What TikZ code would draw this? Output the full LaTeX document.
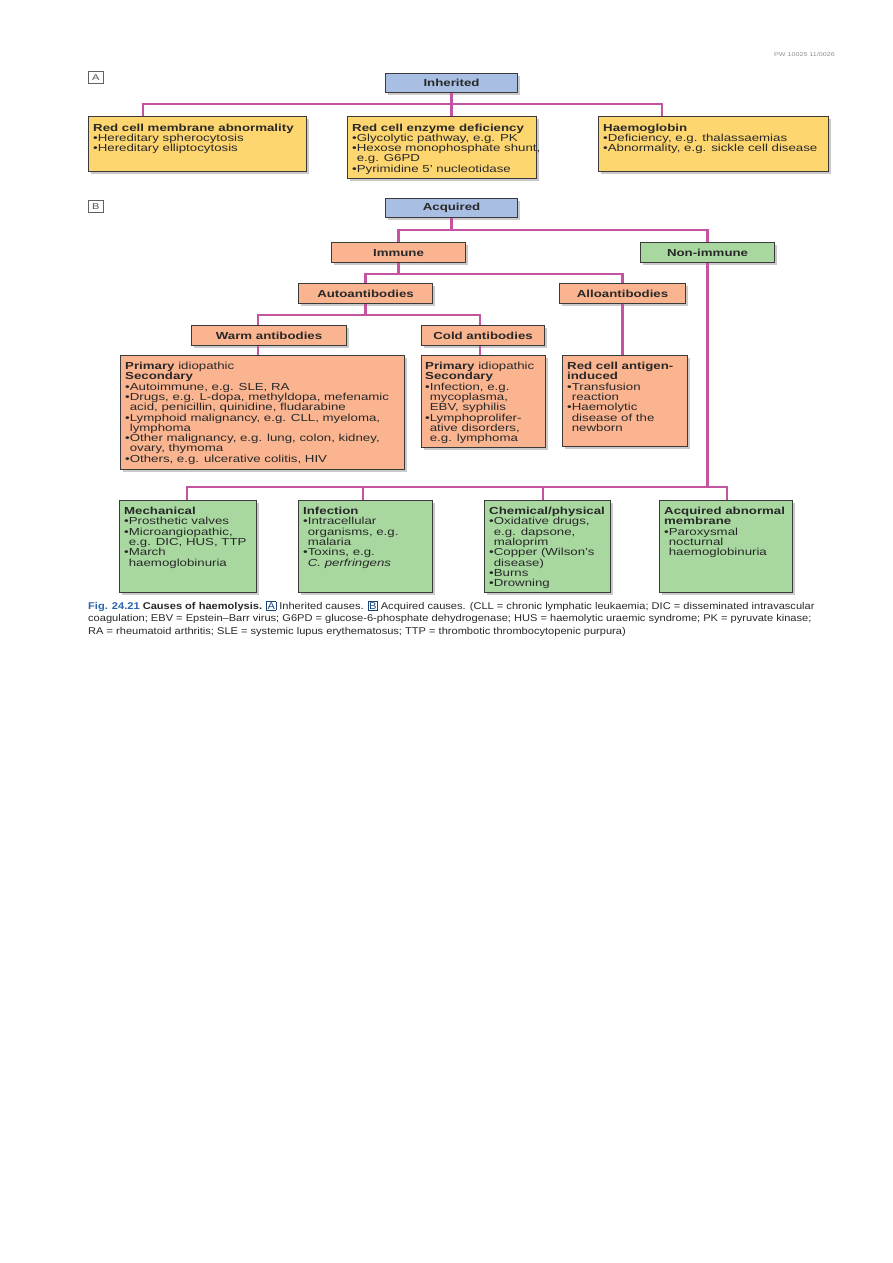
\documentclass[tikz,border=0pt]{standalone}
\usepackage{fontspec}
\setmainfont{Liberation Sans}[FakeStretch=1.3]
\newfontfamily\capfont{Liberation Sans}[FakeStretch=1.13]
\usetikzlibrary{shadows}
\definecolor{bluefill}{RGB}{168,190,226}
\definecolor{yelfill}{RGB}{253,214,112}
\definecolor{salfill}{RGB}{250,180,143}
\definecolor{grnfill}{RGB}{168,216,160}
\definecolor{pinkline}{RGB}{196,84,160}
\definecolor{edge}{RGB}{58,58,58}
\definecolor{ink}{RGB}{40,40,40}
\definecolor{figblue}{RGB}{40,100,175}
\newcommand\bodyfont{\fontsize{10.2}{10.3}\selectfont\lineskiplimit=-10pt\lineskip=0pt}
\newcommand\bul{\textbullet}
\newcommand\hng{\hphantom{\textbullet}}
\newcommand\capbox[1]{{\setlength\fboxsep{0.6pt}\setlength\fboxrule{0.7pt}\fcolorbox{figblue!70!black}{white}{\textcolor{figblue!70!black}{#1}}}}
\tikzset{
  box/.style={draw=edge, line width=1.1pt, inner sep=0pt, anchor=north west,
    drop shadow={shadow xshift=2.5pt, shadow yshift=-2.5pt, opacity=0.35, fill=black!60}},
  bluebox/.style={box, fill=bluefill, font=\bodyfont\bfseries, text=ink},
  yelbox/.style={box, fill=yelfill},
  salbox/.style={box, fill=salfill, font=\bodyfont\bfseries, text=ink},
  grnbox/.style={box, fill=grnfill, font=\bodyfont\bfseries, text=ink},
  txt/.style={anchor=north west, inner sep=0pt, align=left, font=\bodyfont, text=ink},
  lab/.style={draw=edge!80, line width=0.7pt, minimum width=15pt, minimum height=12pt,
    inner sep=0pt, anchor=north west, font=\fontsize{8.5}{8.5}\selectfont, text=ink!80},
  conn/.style={draw=pinkline, line width=2.3pt},
}
\begin{document}
\begin{tikzpicture}[x=1pt,y=-1pt]
\useasboundingbox (0,0) rectangle (893,1263);

\node[anchor=north east, inner sep=0pt, font=\fontsize{5.5}{6}\selectfont, text=black!45] (code) at (835,52) {PW 10025 11/0026};

% ---------- A: inherited ----------
\node[lab] (labA) at (88,71) {A};
\node[bluebox, minimum width=132pt, minimum height=19pt] (inh) at (385,73) {Inherited};

\node[yelbox, minimum width=218pt, minimum height=55pt] (b1) at (88,116) {};
\node[yelbox, minimum width=189pt, minimum height=62pt] (b2) at (347,116) {};
\node[yelbox, minimum width=230pt, minimum height=55pt] (b3) at (598,116) {};

\node[txt] (b1t) at ([shift={(5,7.5)}]b1.north west)
  {\textbf{Red cell membrane abnormality}\\ \bul Hereditary spherocytosis\\ \bul Hereditary elliptocytosis};
\node[txt] (b2t) at ([shift={(5,7.5)}]b2.north west)
  {\textbf{Red cell enzyme deficiency}\\ \bul Glycolytic pathway, e.g. PK\\ \bul Hexose monophosphate shunt,\\ \hng e.g. G6PD\\ \bul Pyrimidine 5’ nucleotidase};
\node[txt] (b3t) at ([shift={(5,7.5)}]b3.north west)
  {\textbf{Haemoglobin}\\ \bul Deficiency, e.g. thalassaemias\\ \bul Abnormality, e.g. sickle cell disease};

\draw[conn] (inh.south) -- ++(0,11) -| ([xshift=55pt]b1.north west);
\draw[conn] (inh.south) -- (inh.south |- b2.north);
\draw[conn] (inh.south) -- ++(0,11) -| ([xshift=64pt]b3.north west);

% ---------- B: acquired ----------
\node[lab] (labB) at (88,200) {B};
\node[bluebox, minimum width=132pt, minimum height=19pt] (acq) at (385,198) {Acquired};

\node[salbox, minimum width=134pt, minimum height=20pt] (imm) at (331,242) {Immune};
\node[grnbox, minimum width=134pt, minimum height=20pt] (nonimm) at (640,242) {Non-immune};
\node[salbox, minimum width=134pt, minimum height=20pt] (auto) at (298,283) {Autoantibodies};
\node[salbox, minimum width=126pt, minimum height=20pt] (allo) at (559,283) {Alloantibodies};
\node[salbox, minimum width=155pt, minimum height=20pt] (warm) at (191,325) {Warm antibodies};
\node[salbox, minimum width=123pt, minimum height=20pt] (cold) at (421,325) {Cold antibodies};

\node[salbox, minimum width=284pt, minimum height=114pt] (wd) at (120,355) {};
\node[salbox, minimum width=124pt, minimum height=92pt] (cd) at (421,355) {};
\node[salbox, minimum width=125pt, minimum height=91pt] (ad) at (562,355) {};

\node[txt] (wdt) at ([shift={(5,7)}]wd.north west)
  {\textbf{Primary} idiopathic\\ \textbf{Secondary}\\ \bul Autoimmune, e.g. SLE, RA\\
   \bul Drugs, e.g. L-dopa, methyldopa, mefenamic\\ \hng acid, penicillin, quinidine, fludarabine\\
   \bul Lymphoid malignancy, e.g. CLL, myeloma,\\ \hng lymphoma\\
   \bul Other malignancy, e.g. lung, colon, kidney,\\ \hng ovary, thymoma\\
   \bul Others, e.g. ulcerative colitis, HIV};
\node[txt] (cdt) at ([shift={(4,7)}]cd.north west)
  {\textbf{Primary} idiopathic\\ \textbf{Secondary}\\ \bul Infection, e.g.\\ \hng mycoplasma,\\ \hng EBV, syphilis\\
   \bul Lymphoprolifer-\\ \hng ative disorders,\\ \hng e.g. lymphoma};
\node[txt] (adt) at ([shift={(5,7)}]ad.north west)
  {\textbf{Red cell antigen-}\\ \textbf{induced}\\ \bul Transfusion\\ \hng reaction\\ \bul Haemolytic\\ \hng disease of the\\ \hng newborn};

\node[grnbox, minimum width=137pt, minimum height=92pt] (mech) at (119,500) {};
\node[grnbox, minimum width=134pt, minimum height=92pt] (inf) at (298,500) {};
\node[grnbox, minimum width=126pt, minimum height=92pt] (chem) at (484,500) {};
\node[grnbox, minimum width=133pt, minimum height=92pt] (acqm) at (659,500) {};

\node[txt] (mecht) at ([shift={(5,7)}]mech.north west)
  {\textbf{Mechanical}\\ \bul Prosthetic valves\\ \bul Microangiopathic,\\ \hng e.g. DIC, HUS, TTP\\ \bul March\\ \hng haemoglobinuria};
\node[txt] (inft) at ([shift={(5,7)}]inf.north west)
  {\textbf{Infection}\\ \bul Intracellular\\ \hng organisms, e.g.\\ \hng malaria\\ \bul Toxins, e.g.\\ \hng \textit{C. perfringens}};
\node[txt] (chemt) at ([shift={(5,7)}]chem.north west)
  {\textbf{Chemical/physical}\\ \bul Oxidative drugs,\\ \hng e.g. dapsone,\\ \hng maloprim\\ \bul Copper (Wilson’s\\ \hng disease)\\ \bul Burns\\ \bul Drowning};
\node[txt] (acqmt) at ([shift={(5,7)}]acqm.north west)
  {\textbf{Acquired abnormal}\\ \textbf{membrane}\\ \bul Paroxysmal\\ \hng nocturnal\\ \hng haemoglobinuria};

% connectors
\draw[conn] (acq.south) -- ++(0,12) -| (imm.north);
\draw[conn] (acq.south) -- ++(0,12) -| (nonimm.north);
\draw[conn] (imm.south) -- ++(0,11) -| (auto.north);
\draw[conn] (imm.south) -- ++(0,11) -| (allo.north);
\draw[conn] (auto.south) -- ++(0,11) -| ([xshift=67pt]warm.north west);
\draw[conn] (auto.south) -- ++(0,11) -| ([xshift=59pt]cold.north west);
\draw[conn] ([xshift=67pt]warm.south west) -- ([xshift=67pt]warm.south west |- wd.north);
\draw[conn] ([xshift=59pt]cold.south west) -- ([xshift=59pt]cold.south west |- cd.north);
\draw[conn] (allo.south) -- (allo.south |- ad.north);
\draw[conn] (nonimm.south) -- ++(0,224) -| ([xshift=68pt]mech.north west);
\draw[conn] (nonimm.south) -- ++(0,224) -| ([xshift=65pt]inf.north west);
\draw[conn] (nonimm.south) -- ++(0,224) -| ([xshift=59pt]chem.north west);
\draw[conn] (nonimm.south) -- ++(0,224) -| ([xshift=68pt]acqm.north west);

% caption
\node[anchor=north west, inner sep=0pt, align=left, font=\capfont\fontsize{9.8}{12.6}\selectfont, text=ink] (cap) at (88,601)
 {\textcolor{figblue}{\textbf{Fig. 24.21}} \textbf{Causes of haemolysis.} \capbox{A} Inherited causes. \capbox{B} Acquired causes. (CLL = chronic lymphatic leukaemia; DIC = disseminated intravascular\\
  coagulation; EBV = Epstein–Barr virus; G6PD = glucose-6-phosphate dehydrogenase; HUS = haemolytic uraemic syndrome; PK = pyruvate kinase;\\
  RA = rheumatoid arthritis; SLE = systemic lupus erythematosus; TTP = thrombotic thrombocytopenic purpura)};
\end{tikzpicture}
\end{document}
